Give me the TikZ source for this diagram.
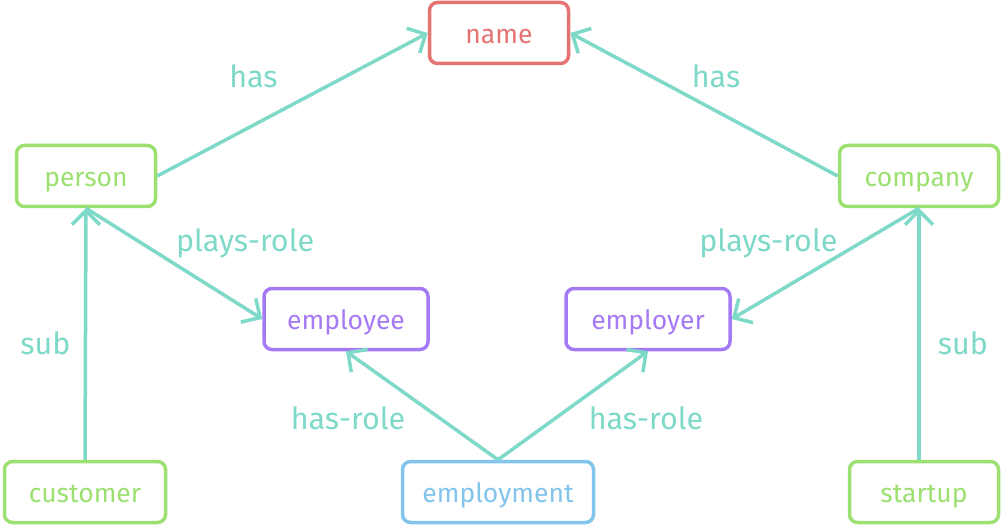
\documentclass[tikz,border=0pt]{standalone}
\usepackage{fontspec}
\setmainfont{Fira Sans}
\usetikzlibrary{arrows.meta}
\definecolor{edgec}{RGB}{126,217,200}
\definecolor{attrc}{RGB}{229,115,115}
\definecolor{entc}{RGB}{155,224,112}
\definecolor{rolec}{RGB}{165,122,245}
\definecolor{relc}{RGB}{130,196,236}
\tikzset{%
box/.style={draw=#1,text=#1,line width=3.5pt,rounded corners=8pt,minimum height=61pt,inner sep=0pt,
  text height=24pt,text depth=2.6pt,font=\fontsize{26.5}{26.5}\selectfont},
attr/.style={box=attrc},
ent/.style={box=entc},
role/.style={box=rolec},
rel/.style={box=relc},
link/.style={draw=edgec,line width=3.5pt,-{Straight Barb[length=14pt,width=28pt,line width=3.5pt]}},
lbl/.style={text=edgec,font=\fontsize{30.5}{30.5}\selectfont,inner sep=0pt},
}
\begin{document}
\begin{tikzpicture}[x=1pt,y=-1pt]
    \useasboundingbox (0,0) rectangle (1008,529);
    \node[attr,minimum width=139pt] (name) at (499,33) {name};
    \node[ent,minimum width=139pt] (person) at (86,176) {person};
    \node[ent,minimum width=159pt] (company) at (919,176) {company};
    \node[role,minimum width=164pt] (employee) at (346,319) {employee};
    \node[role,minimum width=164pt] (employer) at (648,319) {employer};
    \node[ent,minimum width=161pt] (customer) at (85,492) {customer};
    \node[rel,minimum width=191pt] (employment) at (498,492) {employment};
    \node[ent,minimum width=149pt] (startup) at (924,492) {startup};
    \path[link](person.east)--node[lbl,midway,xshift=-39pt,yshift=28pt]{has}(name.west);
    \path[link](company.west)--node[lbl,midway,xshift=12pt,yshift=28pt]{has}(name.east);
    \path[link](person.south)--node[lbl,midway,xshift=71pt,yshift=20pt]{plays-role}(employee.west);
    \path[link](company.south)--node[lbl,midway,xshift=-57pt,yshift=20pt]{plays-role}(employer.east);
    \path[link](customer.north)--node[lbl,midway,xshift=-40pt,yshift=-9pt]{sub}(person.south);
    \path[link](startup.north -| company.south)--node[lbl,midway,xshift=44pt,yshift=-9pt]{sub}(company.south);
    \path[link](employment.north)--node[lbl,midway,xshift=-74pt,yshift=-13pt]{has-role}(employee.south);
    \path[link](employment.north)--node[lbl,midway,xshift=73pt,yshift=-13pt]{has-role}(employer.south);
\end{tikzpicture}
\end{document}
